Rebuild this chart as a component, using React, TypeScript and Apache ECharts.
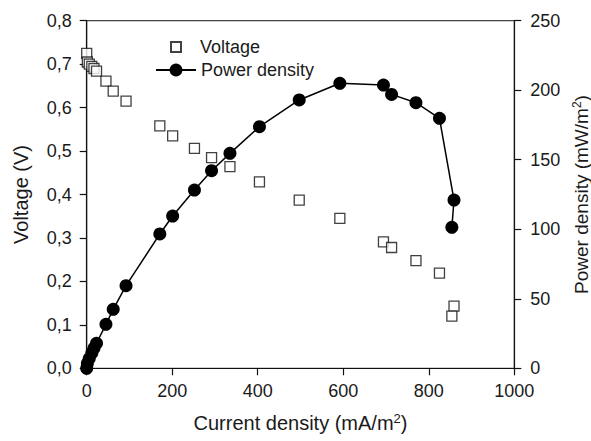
import React, { useEffect, useRef } from "react";
import * as echarts from "echarts";

const current = [0, 1.5, 6, 12, 17, 23, 45, 62, 92, 171, 201, 252, 292, 335, 404, 497, 592, 694, 713, 770, 825, 859, 854];
const voltage = [0.725, 0.705, 0.7, 0.695, 0.69, 0.684, 0.661, 0.638, 0.615, 0.558, 0.535, 0.506, 0.485, 0.464, 0.429, 0.387, 0.345, 0.291, 0.278, 0.248, 0.219, 0.143, 0.12];
const power = [0, 3.5, 7, 11, 14.5, 18, 31.6, 42.4, 59.4, 96.6, 109.5, 128.2, 142.1, 154.6, 173.8, 193, 205, 203.7, 197, 191, 179.8, 121, 101.4];

const FONT = "'Liberation Sans', Arial, sans-serif";
const TXT = "#1a1a1a";
const FS = 18;
const TFS = 20;

const richSup = {
  sup: { fontSize: 13, fontFamily: FONT, color: TXT, verticalAlign: "top", padding: [0, 0, 9, 0] },
};

export default function App() {
  const ref = useRef<HTMLDivElement>(null);
  useEffect(() => {
    if (!ref.current) return;
    const chart = echarts.init(ref.current, undefined, { renderer: "svg" });
    const axisLine = { show: true, lineStyle: { color: "#111", width: 1.2 } };
    const axisTick = { show: true, inside: false, length: 7, lineStyle: { color: "#111", width: 1.2 } };
    chart.setOption({
      animation: false,
      backgroundColor: "#fff",
      textStyle: { fontFamily: FONT },
      grid: {
        left: 86.7,
        right: 76.7,
        top: 20.7,
        bottom: 72.7,
        containLabel: false,
        outerBoundsMode: "none",
        show: true,
        borderColor: "#444",
        borderWidth: 1.2,
        backgroundColor: "transparent",
      },
      legend: [
        {
          data: ["Voltage"],
          orient: "vertical",
          left: 165,
          top: 33,
          itemWidth: 10,
          itemHeight: 10,
          textStyle: { fontSize: FS, color: TXT, fontFamily: FONT, padding: [0, 0, 0, 14] },
        },
        {
          data: ["Power density"],
          orient: "vertical",
          left: 150,
          top: 56,
          itemWidth: 40,
          itemHeight: 16,
          textStyle: { fontSize: FS, color: TXT, fontFamily: FONT },
        },
      ],
      xAxis: {
        type: "value",
        min: 0,
        max: 1000,
        interval: 200,
        name: "Current density (mA/m{sup|2})",
        nameLocation: "middle",
        nameGap: 44,
        nameTextStyle: { fontSize: TFS, color: TXT, fontFamily: FONT, rich: richSup },
        axisLine,
        axisTick,
        splitLine: { show: false },
        axisLabel: { fontSize: FS, color: TXT, margin: 14, fontFamily: FONT, formatter: (v: number) => String(v) },
      },
      yAxis: [
        {
          type: "value",
          min: 0,
          max: 0.8,
          interval: 0.1,
          position: "left",
          name: "Voltage (V)",
          nameLocation: "middle",
          nameGap: 56,
          nameTextStyle: { fontSize: TFS, color: TXT, fontFamily: FONT },
          axisLine,
          axisTick,
          splitLine: { show: false },
          axisLabel: {
            fontSize: FS,
            color: TXT,
            margin: 15,
            fontFamily: FONT,
            formatter: (v: number) => v.toFixed(1).replace(".", ","),
          },
        },
        {
          type: "value",
          min: 0,
          max: 250,
          interval: 50,
          position: "right",
          name: "Power density (mW/m{sup|2})",
          nameLocation: "middle",
          nameRotate: 90,
          nameGap: 57,
          nameTextStyle: {
            fontSize: 19,
            color: TXT,
            fontFamily: FONT,
            rich: { sup: { fontSize: 12, fontFamily: FONT, color: TXT, verticalAlign: "top", padding: [0, 0, 8, 0] } },
          },
          axisLine,
          axisTick,
          splitLine: { show: false },
          axisLabel: { fontSize: FS, color: TXT, margin: 16, fontFamily: FONT, formatter: (v: number) => String(v) },
        },
      ],
      series: [
        {
          name: "Voltage",
          type: "scatter",
          yAxisIndex: 0,
          symbol: "rect",
          symbolSize: 10,
          clip: false,
          itemStyle: { color: "#fff", borderColor: "#111", borderWidth: 1.3 },
          data: current.map((c, i) => [c, voltage[i]]),
          z: 2,
        },
        {
          name: "Power density",
          type: "line",
          yAxisIndex: 1,
          symbol: "circle",
          symbolSize: 13,
          showSymbol: true,
          showAllSymbol: true,
          clip: false,
          itemStyle: { color: "#000" },
          lineStyle: { color: "#000", width: 1.5 },
          data: current.map((c, i) => [c, power[i]]),
          z: 3,
        },
      ],
    });
    return () => chart.dispose();
  }, []);
  return (
    <div
      ref={ref}
      style={{ position: "absolute", left: 0, top: 0, width: 591, height: 441, background: "#fff" }}
    />
  );
}
